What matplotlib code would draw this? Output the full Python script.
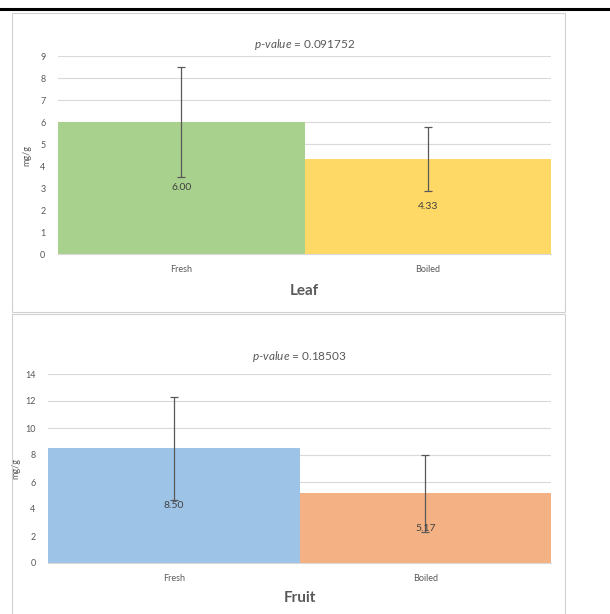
import matplotlib.pyplot as plt
import matplotlib as mpl
from matplotlib.patches import Rectangle
from matplotlib.lines import Line2D

mpl.rc("font", family=['Lato', 'DejaVu Sans'])
mpl.rc("mathtext", fontset='custom', it='Lato:italic', rm='Lato')

categories = ['Fresh', 'Boiled']

leaf_means = [6.00, 4.33]
leaf_err = [2.5, 1.45]
leaf_colors = ['#A9D18E', '#FFD966']
leaf_pvalue = '0.091752'

fruit_means = [8.50, 5.17]
fruit_err = [3.8, 2.85]
fruit_colors = ['#9DC3E6', '#F4B183']
fruit_pvalue = '0.18503'

W, H = 610, 614
txt = '#595959'
grid_c = '#D9D9D9'

fig = plt.figure(figsize=(W / 100, H / 100), dpi=100)


def px_axes(left, top, right, bottom):
    return fig.add_axes([left / W, 1 - bottom / H, (right - left) / W, (bottom - top) / H])


def panel(ax, means, err, colors, ymax, ystep, pvalue, name, title_y, name_y):
    x = range(len(means))
    ax.bar(x, means, width=1.0, color=colors, zorder=2)
    ax.errorbar(x, means, yerr=err, fmt='none', ecolor='#595959',
                elinewidth=0.9, capsize=3, capthick=0.9, zorder=3)
    for i, v in enumerate(means):
        ax.text(i, v / 2, f'{v:.2f}', ha='center', va='center',
                fontsize=7.5, color='#404040', zorder=4)
    ax.set_xlim(-0.5, len(means) - 0.5)
    ax.set_ylim(0, ymax)
    ax.set_yticks(range(0, ymax + 1, ystep))
    ax.yaxis.grid(True, color=grid_c, linewidth=0.8, zorder=0)
    ax.set_axisbelow(True)
    for s in ['top', 'right', 'left']:
        ax.spines[s].set_visible(False)
    ax.spines['bottom'].set_color(grid_c)
    ax.tick_params(length=0, labelsize=6.5, colors=txt, pad=9)
    ax.set_xticks(list(x))
    ax.set_xticklabels(categories)
    ax.tick_params(axis='x', pad=8)
    ax.set_ylabel('mg/g', fontsize=6.5, color=txt)
    ax.yaxis.set_label_coords(-0.055, 0.5)
    cx = 0.5 * (ax.get_position().x0 + ax.get_position().x1)
    fig.text(cx, 1 - title_y / H, r'$\it{p}$-$\it{value}$ = ' + pvalue,
             ha='center', va='center', fontsize=8.5, color=txt)
    fig.text(cx, 1 - name_y / H, name,
             ha='center', va='center', fontsize=11, fontweight='bold', color=txt)


ax1 = px_axes(58, 56, 551, 254)
panel(ax1, leaf_means, leaf_err, leaf_colors, 9, 1, leaf_pvalue, 'Leaf', 45, 291)

ax2 = px_axes(48, 374, 551, 563)
panel(ax2, fruit_means, fruit_err, fruit_colors, 14, 2, fruit_pvalue, 'Fruit', 357, 598)

# chart frames and the rule across the top
for top, bottom in [(13, 312), (314, 616)]:
    fig.add_artist(Rectangle((12 / W, 1 - bottom / H), (565 - 12) / W, (bottom - top) / H,
                             transform=fig.transFigure, fill=False,
                             edgecolor='#D0D0D0', linewidth=0.8))
fig.add_artist(Line2D([0, 1], [1 - 9 / H, 1 - 9 / H], transform=fig.transFigure,
                      color='black', linewidth=2.2))

fig.savefig('out.png', dpi=100)
